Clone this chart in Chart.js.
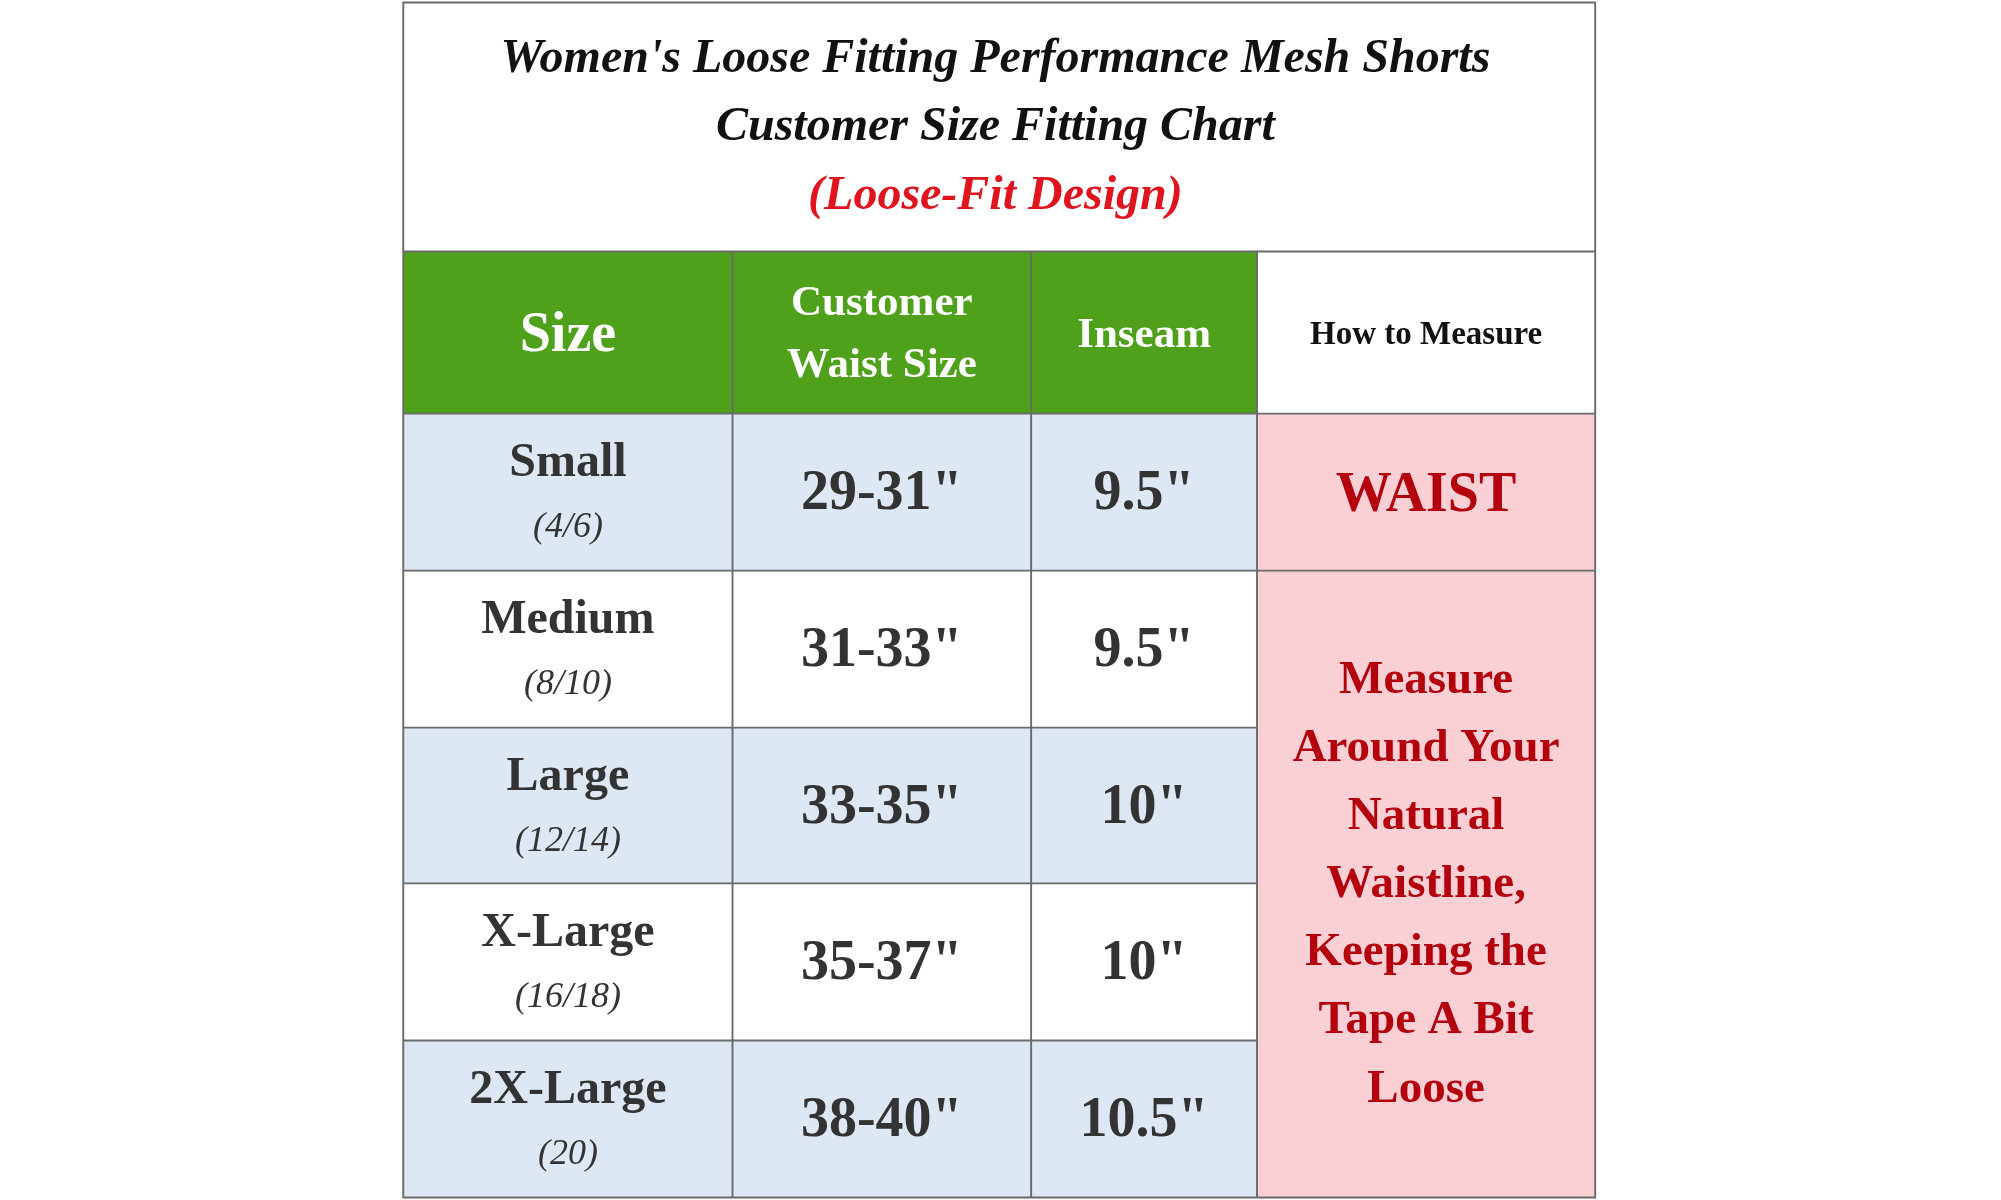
<!DOCTYPE html>
<html>
<head>
<meta charset="utf-8">
<script src="https://cdn.jsdelivr.net/npm/chart.js@4"></script>
<style>
  html, body { margin: 0; padding: 0; background: #fff; }
  #wrap { width: 2001px; height: 1200px; }
</style>
</head>
<body>
<div id="wrap"><canvas id="sizeChart"></canvas></div>
<script>
// table content
const titleLines = ["Women's Loose Fitting Performance Mesh Shorts", "Customer Size Fitting Chart"];
const titleNote = "(Loose-Fit Design)";
const headers = [["Size"], ["Customer", "Waist Size"], ["Inseam"], ["How to Measure"]];
const sizes = ["Small", "Medium", "Large", "X-Large", "2X-Large"];
const sizeNumbers = ["(4/6)", "(8/10)", "(12/14)", "(16/18)", "(20)"];
const waists = ["29-31\"", "31-33\"", "33-35\"", "35-37\"", "38-40\""];
const inseams = ["9.5\"", "9.5\"", "10\"", "10\"", "10.5\""];
const measureTitle = "WAIST";
const measureLines = ["Measure", "Around Your", "Natural", "Waistline,", "Keeping the", "Tape A Bit", "Loose"];

// layout grid (in reference units, mapped through the chart scales)
const colEdges = [316, 574, 808, 985, 1250];
const rowEdges = [197, 324, 447, 570, 692, 815, 938];
const tableTop = 2;

const serif = '"Liberation Serif", "DejaVu Serif", serif';

const tablePlugin = {
  id: "sizeTable",
  afterDraw(chart) {
    const ctx = chart.ctx;
    const xs = chart.scales.x, ys = chart.scales.y;
    const X = v => xs.getPixelForValue(v);
    const Y = v => ys.getPixelForValue(v);
    const k = (X(1568) - X(0)) / 1568;
    const rect = (x0, y0, x1, y1, fill) => {
      ctx.fillStyle = fill;
      ctx.fillRect(X(x0), Y(y0), X(x1) - X(x0), Y(y1) - Y(y0));
    };
    const text = (s, x, y, size, color, style) => {
      ctx.font = `${style || "bold"} ${Math.round(size * k)}px ${serif}`;
      ctx.fillStyle = color;
      ctx.textAlign = "center";
      ctx.textBaseline = "middle";
      ctx.fillText(s, X(x), Y(y));
    };
    const cx = i => (colEdges[i] + colEdges[i + 1]) / 2;

    ctx.save();
    // backgrounds
    rect(colEdges[0], rowEdges[0], colEdges[3], rowEdges[1], "#4fa11c");
    for (let r = 0; r < sizes.length; r++) {
      const fill = r % 2 === 0 ? "#dde8f4" : "#ffffff";
      rect(colEdges[0], rowEdges[r + 1], colEdges[3], rowEdges[r + 2], fill);
    }
    rect(colEdges[3], rowEdges[1], colEdges[4], rowEdges[6], "#fbd0d5");

    // grid lines
    ctx.strokeStyle = "#6a6a6a";
    ctx.lineWidth = Math.max(1, 1.5 * k);
    ctx.beginPath();
    ctx.rect(X(colEdges[0]), Y(tableTop), X(colEdges[4]) - X(colEdges[0]), Y(rowEdges[6]) - Y(tableTop));
    ctx.moveTo(X(colEdges[0]), Y(rowEdges[0])); ctx.lineTo(X(colEdges[4]), Y(rowEdges[0]));
    for (let i = 1; i < colEdges.length - 1; i++) {
      ctx.moveTo(X(colEdges[i]), Y(rowEdges[0])); ctx.lineTo(X(colEdges[i]), Y(rowEdges[6]));
    }
    for (let r = 1; r < rowEdges.length - 1; r++) {
      const right = r <= 2 ? colEdges[4] : colEdges[3];
      ctx.moveTo(X(colEdges[0]), Y(rowEdges[r])); ctx.lineTo(X(right), Y(rowEdges[r]));
    }
    ctx.stroke();

    // title
    text(titleLines[0], 780, 47, 38, "#111", "italic bold");
    text(titleLines[1], 780, 100, 38, "#111", "italic bold");
    text(titleNote, 780, 154, 38, "#e0141e", "italic bold");

    // headers
    text(headers[0][0], cx(0), 264, 44, "#fff");
    text(headers[1][0], cx(1), 238, 34, "#fff");
    text(headers[1][1], cx(1), 287, 34, "#fff");
    text(headers[2][0], cx(2), 263, 34, "#fff");
    text(headers[3][0], cx(3), 263, 26, "#111");

    // body rows
    for (let r = 0; r < sizes.length; r++) {
      const mid = (rowEdges[r + 1] + rowEdges[r + 2]) / 2;
      text(sizes[r], cx(0), mid - 22, 38, "#333");
      text(sizeNumbers[r], cx(0), mid + 28, 28, "#333", "italic");
      text(waists[r], cx(1), mid + 2, 44, "#333");
      text(inseams[r], cx(2), mid + 2, 44, "#333");
    }

    // how to measure
    text(measureTitle, cx(3), 389, 44, "#b3000c");
    measureLines.forEach((s, i) => text(s, cx(3), 533 + i * 53.4, 37, "#b3000c"));
    ctx.restore();
  }
};

new Chart(document.getElementById("sizeChart"), {
  type: "scatter",
  data: { datasets: [{ data: [] }] },
  options: {
    responsive: true,
    maintainAspectRatio: false,
    animation: false,
    layout: { padding: 0 },
    plugins: { legend: { display: false }, tooltip: { enabled: false } },
    scales: {
      x: { type: "linear", min: 0, max: 1568, display: false },
      y: { type: "linear", min: 0, max: 940, reverse: true, display: false }
    }
  },
  plugins: [tablePlugin]
});
</script>
</body>
</html>
